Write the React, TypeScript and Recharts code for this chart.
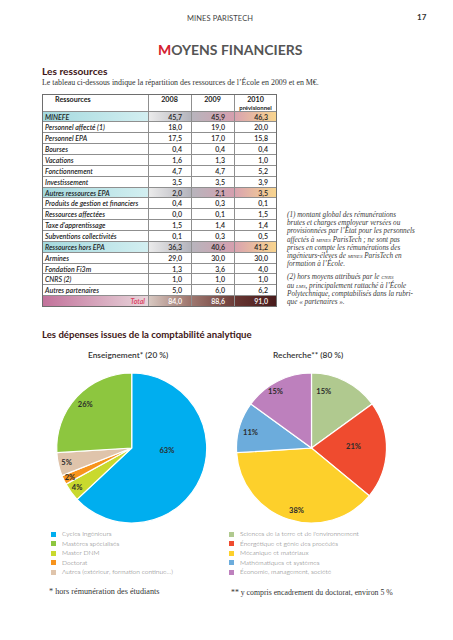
import React from 'react';
import { PieChart, Pie, Cell } from 'recharts';

// --- table data (M€) ---
const ROW_LABELS = [
  'MINEFE',
  'Personnel affecté (1)',
  'Personnel EPA',
  'Bourses',
  'Vacations',
  'Fonctionnement',
  'Investissement',
  'Autres ressources EPA',
  'Produits de gestion et financiers',
  'Ressources affectées',
  "Taxe d'apprentissage",
  'Subventions collectivités',
  'Ressources hors EPA',
  'Armines',
  'Fondation Fi3m',
  'CNRS  (2)',
  'Autres partenaires',
];
const VALUES_2008 = [45.7, 18.0, 17.5, 0.4, 1.6, 4.7, 3.5, 2.0, 0.4, 0.0, 1.5, 0.1, 36.3, 29.0, 1.3, 1.0, 5.0];
const VALUES_2009 = [45.9, 19.0, 17.0, 0.4, 1.3, 4.7, 3.5, 2.1, 0.3, 0.1, 1.4, 0.3, 40.6, 30.0, 3.6, 1.0, 6.0];
const VALUES_2010 = [46.3, 20.0, 15.8, 0.4, 1.0, 5.2, 3.9, 3.5, 0.1, 1.5, 1.4, 0.5, 41.2, 30.0, 4.0, 1.0, 6.2];
const TOTALS = [84.0, 88.6, 91.0];
const SUBTOTAL_ROWS = ['MINEFE', 'Autres ressources EPA', 'Ressources hors EPA'];

// --- pie data (%) ---
const TEACHING_LABELS = ['Cycles Ingénieurs', 'Mastères spécialisés', 'Master DNM', 'Doctorat', 'Autres (extérieur, formation continue…)'];
const TEACHING_VALUES = [63, 26, 4, 2, 5];
const TEACHING_COLORS = ['#00aeef', '#8dc63f', '#c9d92e', '#f7941d', '#dfc4ab'];
// clockwise order from 12 o'clock
const TEACHING_ORDER = [0, 2, 3, 4, 1];

const RESEARCH_LABELS = [
  "Sciences de la terre et de l'environnement",
  'Énergétique et génie des procédés',
  'Mécanique et matériaux',
  'Mathématiques et systèmes',
  'Économie, management, société',
];
const RESEARCH_VALUES = [15, 21, 38, 11, 15];
const RESEARCH_COLORS = ['#b0c98f', '#ef4b2f', '#fdd02b', '#6cacdc', '#bd80bd'];

const fmt = (v: number) => v.toFixed(1).replace('.', ',');

const SANS = 'Lato, "Open Sans", sans-serif';
const SERIF = '"Liberation Serif", "DejaVu Serif", serif';
const RAD = Math.PI / 180;

// table geometry
const TX = 42;
const TY = 94;
const COLS = [42, 148, 191, 234, 277];
const HEAD_H = 17.5;
const ROW_H = 10.86;

const HL_BG = [
  'linear-gradient(to right, #a4d9de, #d3eff1)',
  'linear-gradient(to right, #ececec, #b3b3bb)',
  'linear-gradient(to right, #b7b5bd, #d59fae)',
  'linear-gradient(to right, #d8a2b0, #f9d68e)',
];
const TOTAL_BG = [
  'linear-gradient(to right, #c2719a, #e8d6db)',
  'linear-gradient(to right, #d9cac3, #9c726a)',
  'linear-gradient(to right, #9f7870, #6c3c38)',
  'linear-gradient(to right, #683632, #481a1b)',
];

function Text({ x, y, size, children, style }: any) {
  return (
    <div
      style={{
        position: 'absolute',
        left: x,
        top: y - size * 0.6,
        fontSize: size,
        lineHeight: `${size * 1.2}px`,
        whiteSpace: 'nowrap',
        ...style,
      }}
    >
      {children}
    </div>
  );
}

function ResourceTable() {
  const rows = ROW_LABELS.map((label, i) => ({
    label,
    vals: [VALUES_2008[i], VALUES_2009[i], VALUES_2010[i]],
    hl: SUBTOTAL_ROWS.includes(label),
  }));
  const width = COLS[4] - COLS[0];
  const bodyTop = TY + HEAD_H;
  const totalTop = bodyTop + rows.length * ROW_H;
  const bottom = totalTop + ROW_H;
  const cell = (top: number, c: number, bg: string | undefined, content: React.ReactNode, align: string, extra: any = {}) => (
    <div
      key={`${top}-${c}`}
      style={{
        position: 'absolute',
        left: COLS[c] - TX,
        top: top - TY,
        width: COLS[c + 1] - COLS[c],
        height: ROW_H,
        background: bg,
        boxSizing: 'border-box',
        borderBottom: '1px solid #8f8f8f',
        fontSize: 7,
        lineHeight: `${ROW_H}px`,
        textAlign: align as any,
        paddingLeft: align === 'left' ? 3 : 0,
        paddingRight: align === 'right' ? 9 : 0,
        color: '#1e1e1e',
        fontFamily: SANS,
        ...extra,
      }}
    >
      {content}
    </div>
  );
  return (
    <div
      style={{
        position: 'absolute',
        left: TX,
        top: TY,
        width,
        height: bottom - TY,
      }}
    >
      {/* header */}
      <div style={{ position: 'absolute', left: 0, top: 0, width, height: HEAD_H, borderBottom: '1px solid #8f8f8f', boxSizing: 'border-box' }} />
      <div style={{ position: 'absolute', left: 13, top: 1, fontSize: 7.2, fontWeight: 700, fontFamily: SANS, color: '#222', lineHeight: '9px' }}>Ressources</div>
      {['2008', '2009', '2010'].map((y, k) => (
        <div
          key={y}
          style={{
            position: 'absolute',
            left: COLS[k + 1] - TX,
            width: COLS[k + 2] - COLS[k + 1],
            top: 1,
            textAlign: 'center',
            fontSize: 7.2,
            fontWeight: 700,
            fontFamily: SANS,
            color: '#222',
            lineHeight: '9px',
          }}
        >
          {y}
          {k === 2 && <div style={{ fontSize: 6, lineHeight: '7px' }}>prévisionnel</div>}
        </div>
      ))}
      {rows.map((r, i) => {
        const top = bodyTop + i * ROW_H;
        return (
          <React.Fragment key={r.label}>
            {cell(top, 0, r.hl ? HL_BG[0] : undefined, r.label, 'left', { fontStyle: 'italic', fontWeight: 600 })}
            {r.vals.map((v, k) => cell(top, k + 1, r.hl ? HL_BG[k + 1] : undefined, fmt(v), 'right', { fontWeight: 600 }))}
          </React.Fragment>
        );
      })}
      {cell(totalTop, 0, TOTAL_BG[0], 'Total', 'right', { fontStyle: 'italic', fontWeight: 600, color: '#dc3b5c', paddingRight: 3, borderBottom: 'none' })}
      {TOTALS.map((v, k) => cell(totalTop, k + 1, TOTAL_BG[k + 1], fmt(v), 'right', { fontWeight: 600, color: '#fff', borderBottom: 'none' }))}
      {/* vertical lines and frame */}
      {[1, 2, 3].map((c) => (
        <div key={c} style={{ position: 'absolute', left: COLS[c] - TX, top: 0, width: 1, height: bottom - TY, background: '#8f8f8f' }} />
      ))}
      <div style={{ position: 'absolute', left: 0, top: 0, width, height: bottom - TY, border: '1px solid #6e6e6e', boxSizing: 'border-box' }} />
    </div>
  );
}

const T_LABEL_R = [0.47, 0.9, 0.91, 0.89, 0.85];
const T_LABEL_NUDGE = [20, 0, 0, 0, 0];
const R_LABEL_R = [0.77, 0.56, 0.86, 0.84, 0.89];
const R_LABEL_NUDGE = [14.7, 3.6, 4.6, 1.8, 5.6];

const makeLabel = (radii: number[], nudges: number[]) => (p: any) => {
  const idx = p.index;
  const a = (p.midAngle + nudges[idx]) * RAD;
  const r = p.outerRadius * radii[idx];
  const x = p.cx + r * Math.cos(a);
  const y = p.cy - r * Math.sin(a);
  return (
    <text key={idx} x={x} y={y} textAnchor="middle" dominantBaseline="central" fontFamily={SANS} fontSize={7.5} fontWeight={700} fill="#2b2b2b">
      {`${p.value}%`}
    </text>
  );
};

function Legend({ x, labels, colors }: { x: number; labels: string[]; colors: string[] }) {
  return (
    <>
      {labels.map((l, i) => (
        <React.Fragment key={l}>
          <div style={{ position: 'absolute', left: x, top: 531.5 + i * 9.6, width: 5, height: 5, background: colors[i] }} />
          <Text x={x + 11} y={534 + i * 9.6} size={6.6} style={{ fontFamily: SANS, color: '#6f6f6f', fontWeight: 300 }}>
            {l}
          </Text>
        </React.Fragment>
      ))}
    </>
  );
}

export default function App() {
  const teachingData = TEACHING_ORDER.map((i) => ({ name: TEACHING_LABELS[i], value: TEACHING_VALUES[i], color: TEACHING_COLORS[i] }));
  const researchData = RESEARCH_LABELS.map((n, i) => ({ name: n, value: RESEARCH_VALUES[i], color: RESEARCH_COLORS[i] }));
  const sc = { fontVariant: 'small-caps' as const };
  const noteStyle = { fontFamily: SERIF, fontStyle: 'italic', color: '#3a3a3a' };
  const noteLines1 = [
    <>(1) montant global des rémunérations</>,
    <>brutes et charges employeur versées ou</>,
    <>provisionnées par l’État pour les personnels</>,
    <>affectés à <span style={sc}>mines</span> ParisTech ; ne sont pas</>,
    <>prises en compte les rémunérations des</>,
    <>ingénieurs-élèves de <span style={sc}>mines</span> ParisTech en</>,
    <>formation à l’École.</>,
  ];
  const noteLines2 = [
    <>(2) hors moyens attribués par le <span style={sc}>cnrs</span></>,
    <>au <span style={sc}>lms</span>, principalement rattaché à l’École</>,
    <>Polytechnique, comptabilisés dans la rubri-</>,
    <>que « partenaires ».</>,
  ];
  return (
    <div style={{ position: 'absolute', left: 0, top: 0, width: 453, height: 640, background: '#fff', overflow: 'hidden' }}>
      <Text x={187} y={18} size={7.5} style={{ fontFamily: SANS, color: '#444', letterSpacing: 0.1 }}>
        MINES PARISTECH
      </Text>
      <Text x={417} y={18} size={8} style={{ fontFamily: SANS, color: '#333', fontWeight: 700 }}>
        17
      </Text>
      <Text x={158} y={50} size={14} style={{ fontFamily: SANS, color: '#555', fontWeight: 700 }}>
        <span style={{ color: '#d4202e' }}>M</span>OYENS FINANCIERS
      </Text>
      <Text x={42} y={71} size={10.2} style={{ fontFamily: SANS, color: '#3e1616', fontWeight: 700 }}>
        Les ressources
      </Text>
      <Text x={42} y={82.5} size={7.9} style={{ fontFamily: SERIF, color: '#333' }}>
        Le tableau ci-dessous indique la répartition des ressources de l’École en 2009 et en M€.
      </Text>

      <ResourceTable />

      {noteLines1.map((l, i) => (
        <Text key={`a${i}`} x={287} y={215 + i * 8.3} size={7.2} style={noteStyle}>
          {l}
        </Text>
      ))}
      {noteLines2.map((l, i) => (
        <Text key={`b${i}`} x={287} y={277.7 + i * 8.3} size={7.2} style={noteStyle}>
          {l}
        </Text>
      ))}

      <Text x={42} y={335} size={9.6} style={{ fontFamily: SANS, color: '#3e1616', fontWeight: 700 }}>
        Les dépenses issues de la comptabilité analytique
      </Text>
      <Text x={88} y={356} size={8.3} style={{ fontFamily: SANS, color: '#333', fontWeight: 600 }}>
        Enseignement* (20 %)
      </Text>
      <Text x={273} y={356} size={8.3} style={{ fontFamily: SANS, color: '#333', fontWeight: 600 }}>
        Recherche** (80 %)
      </Text>

      <div style={{ position: 'absolute', left: 0, top: 353 }}>
        <PieChart width={453} height={180}>
          <Pie
            data={teachingData}
            dataKey="value"
            cx={126.7}
            cy={90}
            outerRadius={75}
            startAngle={90}
            endAngle={-270}
            stroke="#fff"
            strokeWidth={1.2}
            label={makeLabel(T_LABEL_R, T_LABEL_NUDGE)}
            labelLine={false}
            isAnimationActive={false}
          >
            {teachingData.map((d) => (
              <Cell key={d.name} fill={d.color} />
            ))}
          </Pie>
          <Pie
            data={researchData}
            dataKey="value"
            cx={306.5}
            cy={90}
            outerRadius={75}
            startAngle={90}
            endAngle={-270}
            stroke="#fff"
            strokeWidth={1.2}
            label={makeLabel(R_LABEL_R, R_LABEL_NUDGE)}
            labelLine={false}
            isAnimationActive={false}
          >
            {researchData.map((d) => (
              <Cell key={d.name} fill={d.color} />
            ))}
          </Pie>
        </PieChart>
      </div>

      <Legend x={51} labels={TEACHING_LABELS} colors={TEACHING_COLORS} />
      <Legend x={229} labels={RESEARCH_LABELS} colors={RESEARCH_COLORS} />

      <Text x={49} y={592} size={8.2} style={{ fontFamily: SERIF, color: '#333' }}>
        * hors rémunération des étudiants
      </Text>
      <Text x={231} y={593} size={7.8} style={{ fontFamily: SERIF, color: '#333' }}>
        ** y compris encadrement du doctorat, environ 5 %
      </Text>
    </div>
  );
}
